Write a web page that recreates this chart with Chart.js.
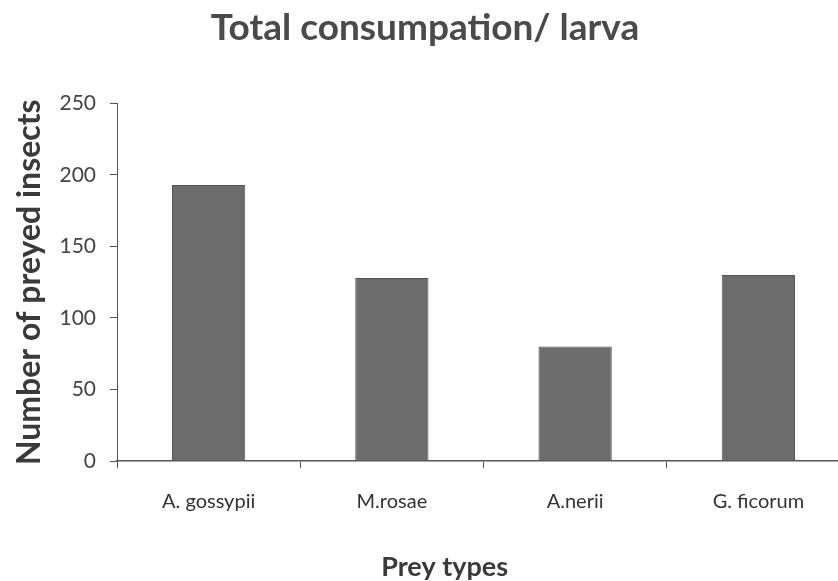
<!DOCTYPE html>
<html>
<head>
<meta charset="utf-8">
<script src="https://cdn.jsdelivr.net/npm/chart.js@4/dist/chart.umd.min.js"></script>
<style>
  html, body { margin: 0; padding: 0; background: #ffffff; overflow: hidden; }
  #wrap { width: 850px; height: 581px; }
</style>
</head>
<body>
<div id="wrap"><canvas id="chart1" width="850" height="581"></canvas></div>
<script>
// data
var preyTypes = ["A. gossypii", "M.rosae", "A.nerii", "G. ficorum"];
var consumption = [193, 128, 80, 130];
var yTicks = [0, 50, 100, 150, 200, 250];

var fontFam = "Lato, 'Open Sans', sans-serif";
var ink = "#444444";

// x axis title sits a bit left of the plot centre in the original
var xTitlePlugin = {
  id: 'xTitle',
  afterDraw: function(chart) {
    var ctx = chart.ctx;
    var area = chart.chartArea;
    ctx.save();
    ctx.font = "bold 27px " + fontFam;
    ctx.fillStyle = "#3a3a3a";
    ctx.textAlign = "center";
    ctx.textBaseline = "middle";
    ctx.fillText("Prey types", area.left + (area.right - area.left) * 0.447, chart.height - 14);
    ctx.restore();
  }
};

var myBar = new Chart(document.getElementById("chart1"), {
  type: 'bar',
  data: {
    labels: preyTypes,
    datasets: [
      {
        label: "Total consumpation/ larva",
        backgroundColor: "#6c6c6c",
        borderColor: "#555555",
        borderWidth: 1,
        data: consumption,
        barPercentage: 0.4,
        categoryPercentage: 1.0
      }
    ]
  },
  plugins: [xTitlePlugin],
  options: {
    responsive: false,
    animation: false,
    layout: { padding: 0 },
    plugins: {
      legend: { display: false },
      tooltip: { enabled: false },
      title: {
        display: true,
        text: 'Total consumpation/ larva',
        color: '#4a4a4a',
        font: { family: fontFam, size: 37, weight: 'bold', lineHeight: 1.2 },
        padding: { top: 6, bottom: 53 }
      }
    },
    scales: {
      x: {
        offset: true,
        border: { display: true, color: '#555555', width: 1.5 },
        grid: { display: true, offset: true, drawOnChartArea: false, drawTicks: true, tickLength: 7, color: '#555555' },
        ticks: { color: '#333333', padding: 22, font: { family: fontFam, size: 20 } },
        afterFit: function(scale) { scale.height = 120; }
      },
      y: {
        min: 0,
        max: 250,
        afterBuildTicks: function(scale) {
          scale.ticks = yTicks.map(function(v) { return { value: v }; });
        },
        border: { display: true, color: '#555555', width: 1 },
        grid: { display: true, drawOnChartArea: false, drawTicks: true, tickLength: 7, color: '#555555' },
        ticks: { color: ink, padding: 14, font: { family: fontFam, size: 21 } },
        title: {
          display: true,
          text: 'Number of preyed insects',
          color: '#3a3a3a',
          font: { family: fontFam, size: 32, weight: 'bold' },
          padding: { top: 10, bottom: 0 }
        },
        afterFit: function(scale) { scale.width = 117; }
      }
    }
  }
});
</script>
</body>
</html>
